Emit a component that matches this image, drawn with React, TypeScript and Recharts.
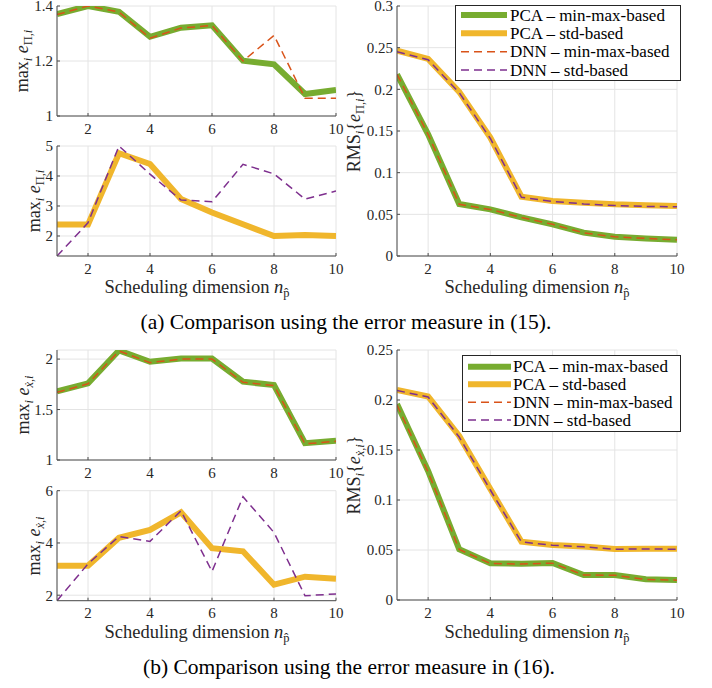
import React from 'react';
import { LineChart, Line, XAxis, YAxis, CartesianGrid } from 'recharts';

// ---------- data ----------
const nValues = [1, 2, 3, 4, 5, 6, 7, 8, 9, 10];
const xTicks = [2, 4, 6, 8, 10];

const seriesNames = ['PCA – min-max-based', 'PCA – std-based', 'DNN – min-max-based', 'DNN – std-based'];

// (a) max_i e_{Pi,i}, min-max-based
const aMaxPcaMinMax = [1.371, 1.4, 1.379, 1.288, 1.321, 1.33, 1.201, 1.188, 1.08, 1.095];
const aMaxDnnMinMax = [1.369, 1.4, 1.378, 1.283, 1.32, 1.329, 1.2, 1.293, 1.065, 1.065];
// (a) max_i e_{Pi,i}, std-based
const aMaxPcaStd = [2.38, 2.38, 4.76, 4.4, 3.23, 2.78, 2.39, 2.0, 2.03, 2.0];
const aMaxDnnStd = [1.333, 2.44, 5.0, 4.06, 3.2, 3.14, 4.39, 4.07, 3.23, 3.5];
// (a) RMS
const aRmsPcaMinMax = [0.218, 0.146, 0.0624, 0.056, 0.0464, 0.038, 0.028, 0.0232, 0.021, 0.0196];
const aRmsPcaStd = [0.2465, 0.2365, 0.197, 0.142, 0.0712, 0.066, 0.064, 0.062, 0.061, 0.06];
const aRmsDnnMinMax = [0.218, 0.146, 0.062, 0.0558, 0.0462, 0.038, 0.0278, 0.023, 0.0212, 0.0194];
const aRmsDnnStd = [0.245, 0.2355, 0.196, 0.141, 0.0705, 0.0655, 0.0625, 0.0605, 0.0595, 0.059];

// (b) max_i e_{xdot,i}, min-max-based
const bMaxPcaMinMax = [1.68, 1.76, 2.085, 1.973, 2.005, 2.005, 1.776, 1.743, 1.167, 1.19];
const bMaxDnnMinMax = [1.67, 1.755, 2.08, 1.965, 2.0, 2.0, 1.77, 1.738, 1.16, 1.185];
// (b) max_i e_{xdot,i}, std-based
const bMaxPcaStd = [3.13, 3.13, 4.2, 4.5, 5.17, 3.8, 3.68, 2.4, 2.71, 2.63];
const bMaxDnnStd = [1.79, 3.2, 4.25, 4.06, 5.23, 2.91, 5.77, 4.4, 1.98, 2.05];
// (b) RMS
const bRmsPcaMinMax = [0.196, 0.129, 0.0507, 0.0367, 0.0363, 0.037, 0.025, 0.025, 0.0207, 0.02];
const bRmsPcaStd = [0.21, 0.2035, 0.164, 0.111, 0.0583, 0.055, 0.0535, 0.051, 0.0513, 0.0512];
const bRmsDnnMinMax = [0.195, 0.128, 0.0505, 0.0365, 0.036, 0.0368, 0.025, 0.0248, 0.0205, 0.0198];
const bRmsDnnStd = [0.2095, 0.203, 0.163, 0.11, 0.058, 0.0548, 0.0532, 0.0508, 0.051, 0.0508];

// ---------- styles ----------
const FONT = "'Liberation Serif', 'Times New Roman', serif";
const TXT = '#262626';
const STYLES: Record<string, { stroke: string; width: number; dash?: string; name: string }> = {
  pcaMinMax: { stroke: '#77AC30', width: 6, name: seriesNames[0] },
  pcaStd: { stroke: '#F0B62C', width: 6, name: seriesNames[1] },
  dnnMinMax: { stroke: '#D95319', width: 1.5, dash: '8 5', name: seriesNames[2] },
  dnnStd: { stroke: '#7E2F8E', width: 1.5, dash: '8 5', name: seriesNames[3] },
};
const ORDER = ['pcaMinMax', 'pcaStd', 'dnnMinMax', 'dnnStd'];

const makeRows = (cols: Record<string, number[]>) =>
  nValues.map((n, i) => {
    const r: Record<string, number> = { n };
    Object.keys(cols).forEach((k) => {
      r[k] = cols[k][i];
    });
    return r;
  });

const YW = 40;
const XH = 30;

type Box = { left: number; top: number; w: number; h: number };
type Plot = { left: number; right: number; top: number; bottom: number };

function Panel({ box, plot, rows, domain, ticks }: { box: Box; plot: Plot; rows: any[]; domain: [number, number]; ticks: number[] }) {
  const margin = {
    top: plot.top - box.top,
    bottom: box.top + box.h - plot.bottom - XH,
    left: plot.left - box.left - YW,
    right: box.left + box.w - plot.right,
  };
  const keys = ORDER.filter((k) => rows[0][k] !== undefined);
  return (
    <div style={{ position: 'absolute', left: box.left, top: box.top }}>
      <LineChart width={box.w} height={box.h} data={rows} margin={margin}>
        <CartesianGrid stroke="#e4e4e4" strokeWidth={1} />
        <XAxis
          dataKey="n"
          type="number"
          domain={[1, 10]}
          ticks={xTicks}
          interval={0}
          height={XH}
          allowDataOverflow
          tickLine={{ stroke: '#4d4d4d' }}
          tickSize={-3}
          tickMargin={10}
          axisLine={{ stroke: '#4d4d4d', strokeWidth: 1 }}
          tick={{ fill: TXT, fontSize: 15, fontFamily: FONT }}
        />
        <YAxis
          type="number"
          domain={domain}
          ticks={ticks}
          interval={0}
          width={YW}
          allowDataOverflow
          tickLine={{ stroke: '#4d4d4d' }}
          tickSize={-3}
          tickMargin={7}
          axisLine={{ stroke: '#4d4d4d', strokeWidth: 1 }}
          tick={{ fill: TXT, fontSize: 15, fontFamily: FONT }}
        />
        {keys.map((k) => (
          <Line
            key={k}
            dataKey={k}
            name={STYLES[k].name}
            type="linear"
            stroke={STYLES[k].stroke}
            strokeWidth={STYLES[k].width}
            strokeDasharray={STYLES[k].dash}
            dot={false}
            activeDot={false}
            isAnimationActive={false}
          />
        ))}
      </LineChart>
    </div>
  );
}

function LegendBox({ left, top, w, h, rowsY, sampleX0, sampleX1, textX }: any) {
  return (
    <div style={{ position: 'absolute', left, top, width: w, height: h }}>
      <svg width={w} height={h}>
        <rect x={0.5} y={0.5} width={w - 1} height={h - 1} fill="#fff" stroke="#262626" strokeWidth={1} />
        {ORDER.map((k, i) => (
          <g key={k}>
            <line
              x1={sampleX0}
              x2={sampleX1}
              y1={rowsY[i]}
              y2={rowsY[i]}
              stroke={STYLES[k].stroke}
              strokeWidth={STYLES[k].width}
              strokeDasharray={STYLES[k].dash}
            />
            <text x={textX} y={rowsY[i] + 5.5} fontSize={17} fontFamily={FONT} fill="#000">
              {STYLES[k].name}
            </text>
          </g>
        ))}
      </svg>
    </div>
  );
}

const SUB = 12.5;

function MaxLabel({ cx, cy, sym, symItalic }: any) {
  return (
    <text x={cx} y={cy + 6} transform={`rotate(-90 ${cx} ${cy})`} textAnchor="middle" fontSize={18} fontFamily={FONT} fill={TXT}>
      max
      <tspan fontStyle="italic" fontSize={SUB} dy={4}>i</tspan>
      <tspan dy={-4}>{'\u00A0'}</tspan>
      <tspan fontStyle="italic">e</tspan>
      <tspan fontSize={SUB} dy={4} fontStyle={symItalic ? 'italic' : 'normal'}>{sym}</tspan>
      <tspan fontSize={SUB}>,</tspan>
      <tspan fontSize={SUB} fontStyle="italic">i</tspan>
    </text>
  );
}

function RmsLabel({ cx, cy, sym, symItalic }: any) {
  return (
    <text x={cx} y={cy + 6} transform={`rotate(-90 ${cx} ${cy})`} textAnchor="middle" fontSize={18} fontFamily={FONT} fill={TXT}>
      RMS
      <tspan fontStyle="italic" fontSize={SUB} dy={4}>i</tspan>
      <tspan dy={-4}>{'{'}</tspan>
      <tspan fontStyle="italic">e</tspan>
      <tspan fontSize={SUB} dy={4} fontStyle={symItalic ? 'italic' : 'normal'}>{sym}</tspan>
      <tspan fontSize={SUB}>,</tspan>
      <tspan fontSize={SUB} fontStyle="italic">i</tspan>
      <tspan dy={-4}>{'}'}</tspan>
    </text>
  );
}

function XLabel({ cx, y }: any) {
  return (
    <text x={cx} y={y} textAnchor="middle" fontSize={18.5} fontFamily={FONT} fill={TXT}>
      Scheduling dimension{'\u00A0'}
      <tspan fontStyle="italic">n</tspan>
      <tspan fontSize={SUB} dy={4}>{'p\u0302'}</tspan>
    </text>
  );
}

export default function App() {
  const aMaxMM = makeRows({ pcaMinMax: aMaxPcaMinMax, dnnMinMax: aMaxDnnMinMax });
  const aMaxStd = makeRows({ pcaStd: aMaxPcaStd, dnnStd: aMaxDnnStd });
  const aRms = makeRows({ pcaMinMax: aRmsPcaMinMax, pcaStd: aRmsPcaStd, dnnMinMax: aRmsDnnMinMax, dnnStd: aRmsDnnStd });
  const bMaxMM = makeRows({ pcaMinMax: bMaxPcaMinMax, dnnMinMax: bMaxDnnMinMax });
  const bMaxStd = makeRows({ pcaStd: bMaxPcaStd, dnnStd: bMaxDnnStd });
  const bRms = makeRows({ pcaMinMax: bRmsPcaMinMax, pcaStd: bRmsPcaStd, dnnMinMax: bRmsDnnMinMax, dnnStd: bRmsDnnStd });

  return (
    <div style={{ position: 'absolute', left: 0, top: 0, width: 712, height: 688, background: '#fff', overflow: 'hidden' }}>
      <Panel box={{ left: 0, top: 0, w: 345, h: 150 }} plot={{ left: 57, right: 336, top: 6, bottom: 116 }} rows={aMaxMM} domain={[1, 1.4]} ticks={[1, 1.2, 1.4]} />
      <Panel box={{ left: 0, top: 130, w: 345, h: 170 }} plot={{ left: 57, right: 336, top: 146, bottom: 256 }} rows={aMaxStd} domain={[1.333, 5]} ticks={[2, 3, 4, 5]} />
      <Panel box={{ left: 345, top: 0, w: 345, h: 300 }} plot={{ left: 397, right: 677, top: 6, bottom: 256 }} rows={aRms} domain={[0, 0.3]} ticks={[0, 0.05, 0.1, 0.15, 0.2, 0.25, 0.3]} />
      <Panel box={{ left: 0, top: 334, w: 345, h: 160 }} plot={{ left: 57, right: 336, top: 350, bottom: 460 }} rows={bMaxMM} domain={[1, 2.09]} ticks={[1, 1.5, 2]} />
      <Panel box={{ left: 0, top: 475, w: 345, h: 160 }} plot={{ left: 57, right: 336, top: 490.7, bottom: 600.7 }} rows={bMaxStd} domain={[1.79, 6]} ticks={[2, 4, 6]} />
      <Panel box={{ left: 345, top: 334, w: 345, h: 310 }} plot={{ left: 397, right: 677, top: 350, bottom: 600 }} rows={bRms} domain={[0, 0.25]} ticks={[0, 0.05, 0.1, 0.15, 0.2, 0.25]} />

      <LegendBox left={455} top={5} w={226} h={76} rowsY={[10, 28.3, 46.7, 65]} sampleX0={6} sampleX1={52} textX={55} />
      <LegendBox left={462} top={355} w={219} h={77} rowsY={[11.7, 29.3, 47.3, 65]} sampleX0={6} sampleX1={49} textX={51} />

      <svg width={712} height={688} style={{ position: 'absolute', left: 0, top: 0, pointerEvents: 'none' }}>
        <MaxLabel cx={22} cy={61} sym={'Π'} />
        <MaxLabel cx={34} cy={201} sym={'Π'} />
        <RmsLabel cx={354} cy={131} sym={'Π'} />
        <MaxLabel cx={23} cy={405} sym={'x\u0307'} symItalic />
        <MaxLabel cx={34} cy={546} sym={'x\u0307'} symItalic />
        <RmsLabel cx={354} cy={475} sym={'x\u0307'} symItalic />
        <XLabel cx={197} y={293} />
        <XLabel cx={537} y={293} />
        <XLabel cx={197} y={638} />
        <XLabel cx={537} y={638} />
        <text x={346} y={329} textAnchor="middle" fontSize={21.5} fontFamily={FONT} fill="#000">
          (a) Comparison using the error measure in (15).
        </text>
        <text x={349} y={674} textAnchor="middle" fontSize={21.5} fontFamily={FONT} fill="#000">
          (b) Comparison using the error measure in (16).
        </text>
      </svg>
    </div>
  );
}
